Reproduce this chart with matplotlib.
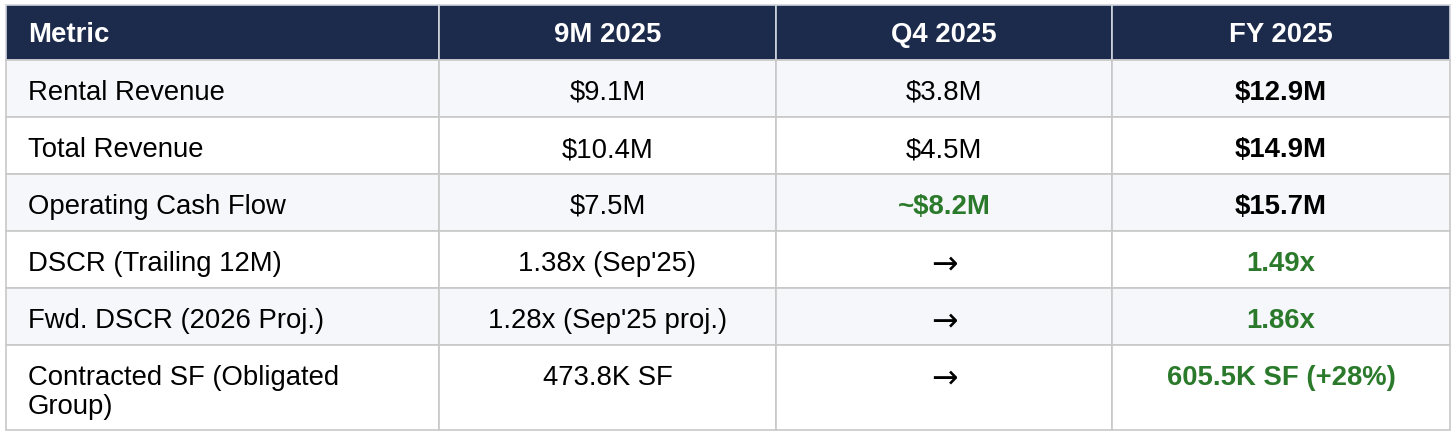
import matplotlib
matplotlib.use('Agg')
import matplotlib.pyplot as plt
from matplotlib.patches import Rectangle

plt.rcParams['font.family'] = ['Liberation Sans', 'DejaVu Sans']

headers = ['Metric', '9M 2025', 'Q4 2025', 'FY 2025']
metrics = ['Rental Revenue', 'Total Revenue', 'Operating Cash Flow',
           'DSCR (Trailing 12M)', 'Fwd. DSCR (2026 Proj.)',
           'Contracted SF (Obligated\nGroup)']
nine_m = ['$9.1M', '$10.4M', '$7.5M', "1.38x (Sep'25)", "1.28x (Sep'25 proj.)", '473.8K SF']
q4 = ['$3.8M', '$4.5M', '~$8.2M', '→', '→', '→']
fy = ['$12.9M', '$14.9M', '$15.7M', '1.49x', '1.86x', '605.5K SF (+28%)']
# styling flags per cell: 'n' normal, 'b' bold black, 'g' bold green
q4_style = ['n', 'n', 'g', 'n', 'n', 'n']
fy_style = ['b', 'b', 'b', 'g', 'g', 'g']

W, H = 1456, 438
NAVY = '#1c2a4c'
GREEN = '#2b7a2b'
GRID = '#c8c8c8'
ALT = '#f5f7fb'

col_x = [6, 439, 776, 1112, 1450]
row_y = [5, 60, 117, 174, 231, 288, 345, 430]

fig = plt.figure(figsize=(W / 100, H / 100), dpi=100)
ax = fig.add_axes([0, 0, 1, 1])
ax.set_xlim(0, W)
ax.set_ylim(H, 0)
ax.axis('off')

fs = 19.8
LINE = 28.5


def put(x, y, s, ha, color='black', weight='normal'):
    if s == '→':
        # arrow glyph: wider, thin-shafted like the reference
        ax.text(x, y + 2, s, fontsize=fs + 3, ha=ha, va='baseline', color=color,
                family='DejaVu Sans')
    else:
        ax.text(x, y, s, fontsize=fs, ha=ha, va='baseline', color=color, fontweight=weight)


# header
for c in range(4):
    x0, x1 = col_x[c], col_x[c + 1]
    ax.add_patch(Rectangle((x0, row_y[0]), x1 - x0, row_y[1] - row_y[0],
                           facecolor=NAVY, edgecolor='#d0d4dc', lw=1.2))
    if c == 0:
        put(x0 + 22, row_y[0] + 37, headers[c], 'left', 'white', 'bold')
    else:
        put((x0 + x1) / 2, row_y[0] + 37, headers[c], 'center', 'white', 'bold')

# body
for r in range(len(metrics)):
    y0, y1 = row_y[r + 1], row_y[r + 2]
    bg = ALT if r % 2 == 0 else 'white'
    for c in range(4):
        x0, x1 = col_x[c], col_x[c + 1]
        ax.add_patch(Rectangle((x0, y0), x1 - x0, y1 - y0,
                               facecolor=bg, edgecolor=GRID, lw=1.2))
    base = y0 + 40
    for i, line in enumerate(metrics[r].split('\n')):
        put(col_x[0] + 22, base + i * LINE, line, 'left')
    for c, val, st in [(1, nine_m[r], 'n'), (2, q4[r], q4_style[r]), (3, fy[r], fy_style[r])]:
        color = GREEN if st == 'g' else 'black'
        weight = 'normal' if st == 'n' else 'bold'
        put((col_x[c] + col_x[c + 1]) / 2, base, val, 'center', color, weight)

fig.savefig('out.png', dpi=100, facecolor='white')
